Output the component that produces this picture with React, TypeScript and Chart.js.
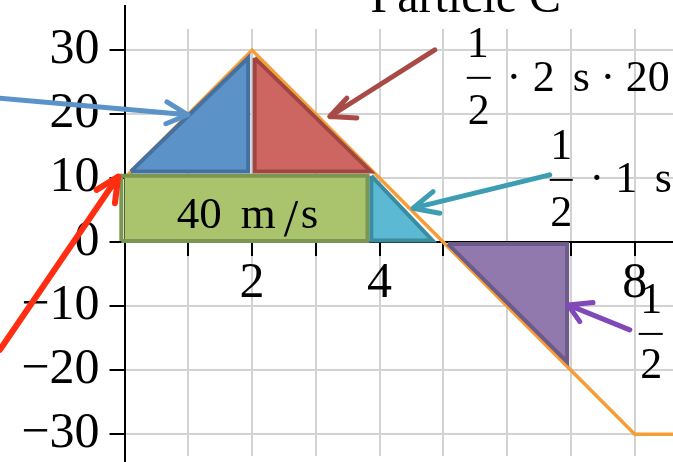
import React, { useEffect, useRef } from 'react';
import { Chart, registerables } from 'chart.js';

Chart.register(...registerables);

// Particle C: velocity (m/s) against time (s)
const timeS = [0, 2, 5, 8, 9];
const velocityMS = [10, 30, 0, -30, -30];

// ticks
const xLabeledTicks = [2, 4, 6, 8];
const xStep = 1;
const yStep = 10;

// area pieces under the curve, [t, v] vertices
const greenRect: number[][] = [[-0.05, 0.2], [-0.05, 10.39], [3.81, 10.39], [3.81, 0.2]];
const blueTri: number[][] = [[0.1, 11.06], [1.94, 28.8], [1.94, 11.06]];
const redTri: number[][] = [[2.04, 28.8], [2.04, 11.06], [3.86, 11.06]];
const cyanTri: number[][] = [[3.87, 10.36], [3.87, 0.28], [4.83, 0.28]];
const purpleTri: number[][] = [[5.07, -0.27], [6.94, -0.27], [6.94, -18.7]];

// arrows: start, tip, wing, tip, wing
const blueArrow: number[][] = [[-1.953, 22.5], [0.994, 19.9], [0.665, 21.9], [0.994, 19.9], [0.649, 18.5]];
const brownArrow: number[][] = [[4.865, 30.05], [3.218, 19.63], [3.486, 22.5], [3.218, 19.63], [3.643, 19.4]];
const tealArrow: number[][] = [[6.667, 10.52], [4.525, 5.31], [4.838, 7.9], [4.525, 5.31], [4.944, 4.53]];
const purpleArrow: number[][] = [[7.922, -13.7], [6.955, -9.8], [7.346, -9.44], [6.955, -9.8], [7.138, -12.4]];
const redArrow: number[][] = [[-1.953, -16.8], [-0.099, 10.25], [-0.437, 8.17], [-0.099, 10.25], [-0.15, 6.09]];

// text annotations
const textItems = [
  { text: 'Particle C', x: 5.351, y: 35.98, size: 48, align: 'center' },
  { text: '1', x: 5.539, y: 28.95, size: 44, align: 'center' },
  { text: '2', x: 5.555, y: 18.48, size: 44, align: 'center' },
  { text: '·', x: 6.103, y: 23.64, size: 44, align: 'center' },
  { text: '2', x: 6.574, y: 23.64, size: 44, align: 'center' },
  { text: 's', x: 7.161, y: 23.64, size: 44, align: 'center' },
  { text: '·', x: 7.577, y: 23.64, size: 44, align: 'center' },
  { text: '20 m/s', x: 7.859, y: 23.64, size: 44, align: 'left' },
  { text: '1', x: 6.848, y: 13.02, size: 44, align: 'center' },
  { text: '2', x: 6.848, y: 2.55, size: 44, align: 'center' },
  { text: '·', x: 7.404, y: 7.86, size: 44, align: 'center' },
  { text: '1', x: 7.867, y: 7.86, size: 44, align: 'center' },
  { text: 's', x: 8.313, y: 7.86, size: 44, align: 'left' },
  { text: '1', x: 8.26, y: -11.05, size: 44, align: 'center' },
  { text: '2', x: 8.26, y: -21.2, size: 44, align: 'center' },
  { text: '40', x: 0.821, y: 2.23, size: 45, align: 'left' },
  { text: 'm', x: 1.824, y: 2.23, size: 45, align: 'left' },
  { text: '/', x: 2.61, y: 1.0, size: 52, align: 'center' },
  { text: 's', x: 2.765, y: 2.23, size: 45, align: 'left' },
];
const fractionBars: number[][] = [[5.367, 5.743, 25.67], [6.667, 7.028, 9.73], [8.063, 8.439, -14.33]];

const FONT = '"Liberation Serif", "Times New Roman", serif';

const toPts = (arr: number[][], close: boolean) => {
  const pts = arr.map(([x, y]) => ({ x, y }));
  if (close) pts.push({ x: arr[0][0], y: arr[0][1] });
  return pts;
};

const shape = (arr: number[][], fillColor: string, border: string, order: number) => ({
  data: toPts(arr, true),
  borderColor: border,
  backgroundColor: fillColor,
  borderWidth: 4,
  borderJoinStyle: 'miter',
  fill: 'shape',
  pointRadius: 0,
  tension: 0,
  clip: false,
  order,
});

const arrow = (arr: number[][], color: string, width: number, order: number) => ({
  data: toPts(arr, false),
  borderColor: color,
  backgroundColor: color,
  borderWidth: width,
  borderJoinStyle: 'round',
  borderCapStyle: 'round',
  fill: false,
  pointRadius: 0,
  tension: 0,
  clip: false,
  order,
});

const annotationPlugin = {
  id: 'annotations',
  beforeDatasetsDraw(chart: any) {
    const { ctx, chartArea } = chart;
    const xl = Math.round(chartArea.left);
    ctx.save();
    ctx.strokeStyle = '#000';
    ctx.lineWidth = 2;
    ctx.beginPath();
    ctx.moveTo(xl, 5);
    ctx.lineTo(xl, chartArea.top);
    ctx.moveTo(xl, chartArea.bottom);
    ctx.lineTo(xl, chart.height);
    ctx.stroke();
    ctx.restore();
  },
  afterDatasetsDraw(chart: any) {
    const { ctx } = chart;
    const xs = chart.scales.x;
    const ys = chart.scales.y;
    ctx.save();
    ctx.fillStyle = '#000';
    ctx.textBaseline = 'alphabetic';
    for (const t of textItems) {
      ctx.font = `${t.size}px ${FONT}`;
      ctx.textAlign = t.align;
      ctx.fillText(t.text, xs.getPixelForValue(t.x), ys.getPixelForValue(t.y));
    }
    ctx.strokeStyle = '#000';
    ctx.lineWidth = 2;
    for (const [x1, x2, y] of fractionBars) {
      const py = ys.getPixelForValue(y);
      ctx.beginPath();
      ctx.moveTo(xs.getPixelForValue(x1), py);
      ctx.lineTo(xs.getPixelForValue(x2), py);
      ctx.stroke();
    }
    ctx.restore();
  },
};

export default function App() {
  const ref = useRef<HTMLCanvasElement | null>(null);
  useEffect(() => {
    if (!ref.current) return;
    const chart = new Chart(ref.current, {
      type: 'line',
      data: {
        datasets: [
          {
            data: timeS.map((t, i) => ({ x: t, y: velocityMS[i] })),
            borderColor: '#f69d35',
            borderWidth: 3.5,
            borderJoinStyle: 'miter',
            pointRadius: 0,
            tension: 0,
            fill: false,
            order: 20,
          },
          shape(greenRect, '#a9c46c', '#7b9650', 15),
          shape(blueTri, '#5b93c8', '#44719f', 14),
          shape(redTri, '#cd6560', '#9f4642', 13),
          shape(cyanTri, '#5bb9d3', '#3a8ca0', 12),
          shape(purpleTri, '#9178ad', '#6c5a8a', 11),
          arrow(blueArrow, '#5b93c8', 5, 5),
          arrow(brownArrow, '#a84b47', 5, 4),
          arrow(tealArrow, '#3d9db3', 5, 3),
          arrow(purpleArrow, '#8048b8', 5, 2),
          arrow(redArrow, '#ff2d12', 6, 1),
        ] as any,
      },
      options: {
        responsive: false,
        animation: false,
        devicePixelRatio: 1,
        events: [],
        layout: { padding: { top: 29, bottom: 6, left: 0, right: 0 } },
        plugins: { legend: { display: false }, tooltip: { enabled: false }, title: { display: false } },
        scales: {
          x: {
            type: 'linear',
            position: { y: 0 } as any,
            min: 0,
            max: 8.6,
            afterFit: (s: any) => {
              s.paddingLeft = 0;
              s.paddingRight = 0;
            },
            grid: {
              color: (c: any) => (c.tick && c.tick.value === 0 ? 'rgba(0,0,0,0)' : '#d2d2d2'),
              lineWidth: 2,
              tickColor: '#000',
              tickWidth: 2,
              tickLength: 13,
              drawTicks: true,
            },
            border: { display: true, color: '#000', width: 2 },
            ticks: {
              stepSize: xStep,
              includeBounds: false,
              autoSkip: false,
              maxRotation: 0,
              padding: 4,
              color: '#000',
              font: { family: FONT, size: 50, lineHeight: 1 },
              callback: (v: any) => (xLabeledTicks.includes(Number(v)) ? String(v) : ''),
            },
          },
          y: {
            type: 'linear',
            position: 'left',
            min: -33.4,
            max: 33.3,
            afterFit: (s: any) => {
              s.width = 124.5;
              s.paddingTop = 0;
              s.paddingBottom = 0;
            },
            grid: {
              color: (c: any) => (c.tick && c.tick.value === 0 ? 'rgba(0,0,0,0)' : '#d2d2d2'),
              lineWidth: 2,
              tickColor: '#000',
              tickWidth: 2,
              tickLength: 15,
              drawTicks: true,
            },
            border: { display: true, color: '#000', width: 2 },
            ticks: {
              stepSize: yStep,
              includeBounds: false,
              padding: 10,
              color: '#000',
              font: { family: FONT, size: 50, lineHeight: 0.3 },
              callback: (v: any) => (Number(v) < 0 ? '\u2212' + Math.abs(Number(v)) : String(v)),
            },
          },
        },
      } as any,
      plugins: [annotationPlugin],
    });
    return () => chart.destroy();
  }, []);
  return (
    <div style={{ position: 'fixed', left: 0, top: 0, width: 673, height: 462, background: '#fff' }}>
      <canvas ref={ref} width={673} height={462} style={{ display: 'block' }} />
    </div>
  );
}
